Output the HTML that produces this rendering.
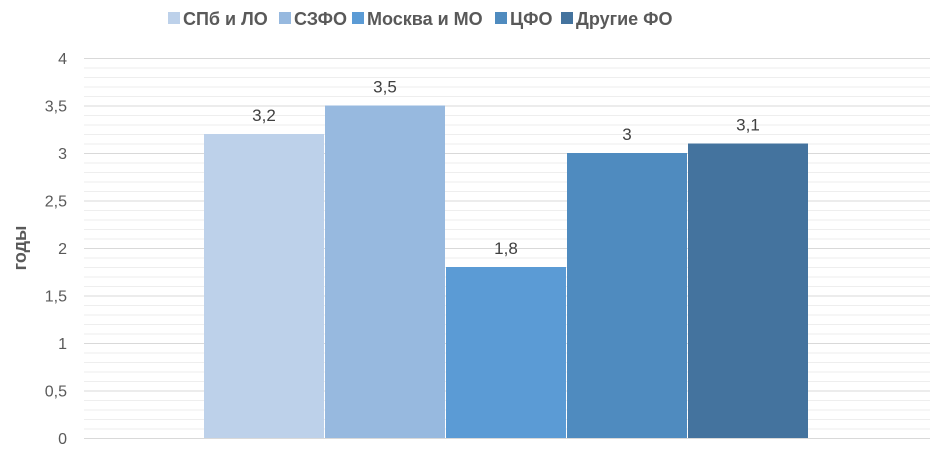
<!DOCTYPE html>
<html><head><meta charset="utf-8"><style>
body{margin:0;background:#fff;width:943px;height:466px;overflow:hidden;font-family:"Liberation Sans",Calibri,sans-serif}
</style></head><body>
<svg width="943" height="466">
<g id="grid"></g>
<g id="yt"></g>
<g id="bars"></g>
<g id="lbl"></g>
<g id="leg"></g>
<text transform="translate(26,248) rotate(-90)" text-anchor="middle" font-size="18" font-weight="bold" fill="#595959">годы</text>
</svg>
<script>
const categories=["СПб и ЛО","СЗФО","Москва и МО","ЦФО","Другие ФО"];
const values=[3.2,3.5,1.8,3,3.1];
const valueLabels=["3,2","3,5","1,8","3","3,1"];
const yTicks=[0,0.5,1,1.5,2,2.5,3,3.5,4];
const yTickLabels=["0","0,5","1","1,5","2","2,5","3","3,5","4"];
const colors=["#BDD1EA","#97B9DF","#5B9BD5","#4F8BBF","#44739E"];
const NS="http://www.w3.org/2000/svg";
const y0=438,pxPer=95,x0=84,x1=930,barStart=204,barW=120,barGap=1;
const Y=v=>y0-v*pxPer;
function mk(t,a,p){const e=document.createElementNS(NS,t);for(const k in a)e.setAttribute(k,a[k]);p.appendChild(e);return e;}
const g=document.getElementById('grid');
for(let i=0;i<=40;i++){const v=i/10;const l=mk('line',{x1:x0,x2:x1,y1:Y(v)+0.5,y2:Y(v)+0.5,stroke:i%5==0?'#D9D9D9':'#EEEEEE','stroke-width':1},g);

}
const yt=document.getElementById('yt');
yTicks.forEach((v,i)=>{const t=mk('text',{x:67,y:Y(v)+6,'text-anchor':'end','font-size':16,fill:'#595959'},yt);t.textContent=yTickLabels[i];

});
const bg=document.getElementById('bars'),lg=document.getElementById('lbl');
values.forEach((v,i)=>{const x=barStart+i*(barW+barGap);
const r=mk('rect',{x:x,y:Y(v),width:barW,height:v*pxPer,fill:colors[i]},bg);


const t=mk('text',{x:x+barW/2,y:Y(v)-13,'text-anchor':'middle','font-size':17,fill:'#404040'},lg);t.textContent=valueLabels[i];

});
const leg=document.getElementById('leg');
const legX=[168,279,352,495,561];
categories.forEach((c,i)=>{const gi=mk('g',{},leg);


mk('rect',{x:legX[i],y:12,width:12,height:12,fill:colors[i]},gi);
const t=mk('text',{x:legX[i]+15,y:25,'font-size':18,'font-weight':'bold',fill:'#595959'},gi);t.textContent=c;});
</script>
</body></html>
